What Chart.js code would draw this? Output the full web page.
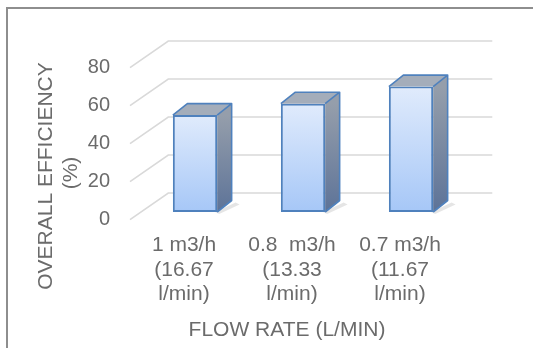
<!DOCTYPE html>
<html>
<head>
<meta charset="utf-8">
<script src="https://cdn.jsdelivr.net/npm/chart.js@4.4.1/dist/chart.umd.min.js"></script>
<style>
  html, body { margin: 0; padding: 0; background: #ffffff; }
  #wrap { position: relative; width: 533px; height: 348px; overflow: hidden; }
  #frame { position: absolute; left: 6px; top: 7px; width: 600px; height: 400px;
           border-left: 2px solid #8e8e8e; border-top: 2px solid #8e8e8e; }
  #c { position: absolute; left: 0; top: 0; }
</style>
</head>
<body>
<div id="wrap">
  <div id="frame"></div>
  <canvas id="c" width="533" height="348"></canvas>
</div>
<script>
// Flow rate categories (one array of lines per bar)
const categories = [
  ["1 m3/h", "(16.67", "l/min)"],
  ["0.8  m3/h", "(13.33", "l/min)"],
  ["0.7 m3/h", "(11.67", "l/min)"]
];
// Overall efficiency, %
const efficiency = [51, 57, 66];
// Value axis ticks
const yTicks = [0, 20, 40, 60, 80];
// Axis captions
const yTitle = ["OVERALL EFFICIENCY", "(%)"];
const xTitle = "FLOW RATE (L/MIN)";

const FONT = '"Liberation Sans", Arial, sans-serif';
const TEXT = '#6b6b6b';
const EDGE = '#4f81bd';

// Perspective offsets of the walls and bar depth, relative to the bar plane
const wallFront = { dx: -11, dy: 7.7 };
const wallBack = { dx: 27.3, dy: -19 };
const barDepth = { dx: 14.5, dy: -11.5 };

// Pseudo-3D walls, grid and bar sides/tops
const depthPlugin = {
  id: 'depth3d',
  beforeDatasetsDraw(chart) {
    const { ctx, chartArea: a, scales: { y } } = chart;
    ctx.save();
    ctx.strokeStyle = '#d9d9d9';
    ctx.lineWidth = 1.6;
    yTicks.forEach(v => {
      const py = y.getPixelForValue(v);
      ctx.beginPath();
      ctx.moveTo(a.left + wallFront.dx, py + wallFront.dy);
      ctx.lineTo(a.left + wallBack.dx, py + wallBack.dy);
      ctx.lineTo(a.right + wallBack.dx, py + wallBack.dy);
      ctx.stroke();
    });

    const meta = chart.getDatasetMeta(0);
    meta.data.forEach(bar => {
      const L = bar.x - bar.width / 2, R = bar.x + bar.width / 2;
      const T = bar.y, B = bar.base;
      const dx = barDepth.dx, dy = barDepth.dy;
      // soft floor shadow
      ctx.fillStyle = 'rgba(0,0,0,0.10)';
      ctx.beginPath();
      ctx.moveTo(R - 2, B);
      ctx.lineTo(R + dx + 4, B + dy + 2);
      ctx.lineTo(R + dx + 8, B + dy + 4);
      ctx.lineTo(R + 2, B + 2);
      ctx.closePath();
      ctx.fill();
      // side face
      const gs = ctx.createLinearGradient(0, T, 0, B);
      gs.addColorStop(0, '#959eab');
      gs.addColorStop(1, '#5d7398');
      ctx.fillStyle = gs;
      ctx.beginPath();
      ctx.moveTo(R, T);
      ctx.lineTo(R + dx, T + dy);
      ctx.lineTo(R + dx, B + dy);
      ctx.lineTo(R, B);
      ctx.closePath();
      ctx.fill();
      // top face
      ctx.fillStyle = '#a4adba';
      ctx.beginPath();
      ctx.moveTo(L, T);
      ctx.lineTo(L + dx, T + dy);
      ctx.lineTo(R + dx, T + dy);
      ctx.lineTo(R, T);
      ctx.closePath();
      ctx.fill();
      // edges
      ctx.strokeStyle = EDGE;
      ctx.lineWidth = 1.6;
      ctx.lineJoin = 'round';
      ctx.beginPath();
      ctx.moveTo(L, T);
      ctx.lineTo(L + dx, T + dy);
      ctx.lineTo(R + dx, T + dy);
      ctx.lineTo(R + dx, B + dy);
      ctx.lineTo(R, B);
      ctx.moveTo(R + dx, T + dy);
      ctx.lineTo(R, T);
      ctx.stroke();
    });
    ctx.restore();
  },
  afterDraw(chart) {
    const { ctx } = chart;
    ctx.save();
    ctx.fillStyle = TEXT;
    ctx.font = '21px ' + FONT;
    ctx.textAlign = 'center';
    ctx.textBaseline = 'middle';
    ctx.fillText(xTitle, 287, 330);
    ctx.translate(46, 176);
    ctx.rotate(-Math.PI / 2);
    ctx.fillText(yTitle[0], 0, 0);
    ctx.fillText(yTitle[1], 3, 25);
    ctx.restore();
  }
};

function frontFill(context) {
  const chart = context.chart;
  const y = chart.scales.y;
  if (!chart.chartArea || !y) return '#c4dbfa';
  const v = context.parsed ? context.parsed.y : efficiency[context.dataIndex];
  const top = y.getPixelForValue(v);
  const bottom = y.getPixelForValue(0);
  const g = chart.ctx.createLinearGradient(0, top, 0, bottom);
  g.addColorStop(0, '#e0ebfc');
  g.addColorStop(1, '#a6c7f7');
  return g;
}

new Chart(document.getElementById('c'), {
  type: 'bar',
  data: {
    labels: categories,
    datasets: [{
      data: efficiency,
      backgroundColor: frontFill,
      borderColor: EDGE,
      borderWidth: 2,
      borderSkipped: false,
      barPercentage: 0.41,
      categoryPercentage: 1
    }]
  },
  options: {
    responsive: false,
    animation: false,
    devicePixelRatio: 1,
    layout: { padding: { top: 60, right: 68, left: 0, bottom: 0 } },
    plugins: { legend: { display: false }, tooltip: { enabled: false } },
    scales: {
      x: {
        grid: { display: false, drawTicks: false },
        border: { display: false },
        ticks: {
          color: TEXT,
          font: { family: FONT, size: 21, lineHeight: 1.15 },
          padding: 21.5,
          labelOffset: wallFront.dx,
          maxRotation: 0,
          minRotation: 0,
          autoSkip: false
        },
        afterFit(scale) { scale.height = 136; }
      },
      y: {
        min: 0,
        max: 80,
        grid: { display: false, drawTicks: false },
        border: { display: false },
        afterBuildTicks(scale) { scale.ticks = yTicks.map(v => ({ value: v })); },
        ticks: {
          color: TEXT,
          font: { family: FONT, size: 20 },
          padding: 31,
          labelOffset: wallFront.dy
        },
        afterFit(scale) { scale.width = 141; }
      }
    }
  },
  plugins: [depthPlugin]
});
</script>
</body>
</html>
